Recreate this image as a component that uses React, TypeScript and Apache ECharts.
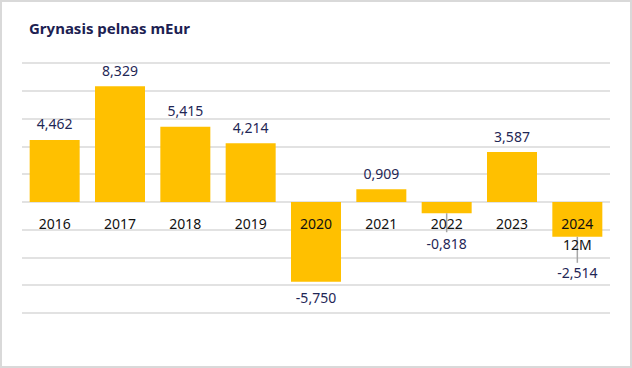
import React, { useEffect, useRef } from "react";
import * as echarts from "echarts";

const categories = ["2016", "2017", "2018", "2019", "2020", "2021", "2022", "2023", "2024"];
const categoryLabels = ["2016", "2017", "2018", "2019", "2020", "2021", "2022", "2023", "2024\n12M"];
const profitValues = [4.462, 8.329, 5.415, 4.214, -5.75, 0.909, -0.818, 3.587, -2.514];
const yMin = -8;
const yMax = 10;
const yInterval = 2;

const titleText = "Grynasis pelnas mEur";

// label displacement (px) and leader line length for moved labels
const movedLabels: Record<string, { dy: number; line: number }> = {
  "2022": { dy: 14, line: 19 },
  "2024": { dy: 20, line: 26 },
};

const fmt = (v: number) => v.toFixed(3).replace(".", ",");

export default function App() {
  const ref = useRef<HTMLDivElement>(null);
  useEffect(() => {
    if (!ref.current) return;
    const chart = echarts.init(ref.current, undefined, { renderer: "svg" });
    const font = "'Noto Sans', sans-serif";
    const barData = profitValues.map((v, i) => {
      const moved = movedLabels[categories[i]];
      return {
        value: v,
        label: {
          position: v >= 0 ? "top" : "bottom",
          distance: 9,
          offset: [0, moved ? moved.dy : 0],
        },
      };
    });
    const leaderData = categories
      .map((c, i) => [i, profitValues[i], movedLabels[c] ? movedLabels[c].line : 0])
      .filter((d) => d[2] > 0);
    chart.setOption({
      animation: false,
      title: {
        text: titleText,
        left: 24,
        top: 15,
        textStyle: { fontFamily: font, fontWeight: "bold", fontSize: 15, color: "#1c2152" },
      },
      grid: { left: 22, right: 22, top: 63, bottom: 55, containLabel: false },
      xAxis: {
        type: "category",
        data: categories,
        z: 5,
        offset: 0,
        axisLine: { show: false, onZero: false },
        axisTick: { show: false },
        axisLabel: {
          interval: 0,
          margin: 11,
          fontFamily: font,
          fontSize: 14,
          color: "#111111",
          lineHeight: 21,
          verticalAlign: "top",
          formatter: (_v: string, i: number) => categoryLabels[i],
        },
      },
      yAxis: {
        type: "value",
        min: yMin,
        max: yMax,
        interval: yInterval,
        axisLabel: { show: false },
        axisLine: { show: false },
        axisTick: { show: false },
        splitLine: { lineStyle: { color: "#d9d9d9", width: 1.5 } },
      },
      series: [
        {
          type: "bar",
          data: barData,
          barWidth: 50,
          itemStyle: { color: "#ffc000" },
          label: {
            show: true,
            fontFamily: font,
            fontSize: 14,
            color: "#1f2756",
            formatter: (p: any) => fmt(p.value),
          },
        },
        {
          type: "custom",
          data: leaderData,
          z: 4,
          renderItem: (_params: any, api: any) => {
            const p = api.coord([api.value(0), api.value(1)]);
            const len = api.value(2);
            return {
              type: "line",
              shape: { x1: p[0], y1: p[1], x2: p[0], y2: p[1] + len },
              style: { stroke: "#a6a6a6", lineWidth: 1.5 },
            };
          },
        },
      ],
    });
    // place the category axis on the zero line, using the value axis scale
    const zeroY = chart.convertToPixel({ yAxisIndex: 0 }, 0) as number;
    const minY = chart.convertToPixel({ yAxisIndex: 0 }, yMin) as number;
    chart.setOption({ xAxis: { offset: zeroY - minY } });
    return () => chart.dispose();
  }, []);
  return (
    <div style={{ position: "absolute", left: 0, top: 0, width: 632, height: 368, background: "#fff" }}>
      <div ref={ref} style={{ position: "absolute", left: 0, top: 0, width: 632, height: 368 }} />
      <div
        style={{
          position: "absolute",
          left: 0,
          top: 0,
          width: 632,
          height: 368,
          boxSizing: "border-box",
          border: "2px solid #d9d9d9",
          pointerEvents: "none",
        }}
      />
    </div>
  );
}
